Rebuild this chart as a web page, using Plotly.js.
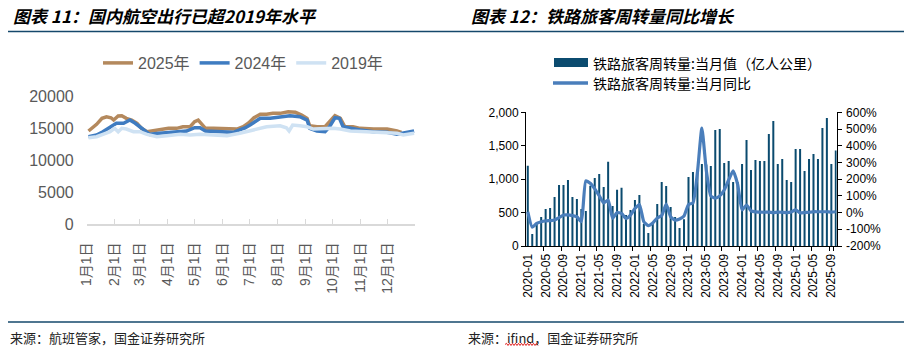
<!DOCTYPE html>
<html><head><meta charset="utf-8">
<script src="https://cdn.plot.ly/plotly-3.0.1.min.js"></script>
<style>html,body{margin:0;padding:0;background:#fff;}#chart{width:911px;height:356px;}</style>
</head><body><div id="chart"></div>
<script>
// ---------- Left chart: domestic flights (daily flights), day-of-year positions ----------
const airDays2025 = [2, 11, 17, 22, 27, 30, 35, 39, 44, 50, 56, 61, 67, 72, 80, 91, 100, 107, 115, 120, 124, 128, 132, 141, 159, 167, 174, 180, 186, 193, 200, 207, 215, 224, 232, 239, 245, 248, 256, 265, 270, 276, 282, 287, 296, 304, 319, 334, 345, 350];
const air2025 = [14620, 15670, 16610, 16860, 16700, 16340, 16970, 17020, 16610, 16340, 15830, 15040, 14510, 14620, 14930, 15040, 15040, 15290, 15290, 16080, 16340, 15670, 15040, 15040, 14930, 14930, 15290, 15870, 16700, 17240, 17240, 17390, 17390, 17640, 17550, 17130, 16610, 15450, 15290, 15290, 16080, 17020, 16610, 15290, 15290, 15040, 14930, 14930, 14620, 14410];
const airDays2024 = [2, 11, 18, 26, 33, 41, 48, 54, 59, 65, 70, 81, 96, 111, 120, 126, 132, 148, 163, 170, 176, 182, 193, 204, 215, 226, 237, 245, 248, 256, 265, 270, 276, 281, 285, 293, 304, 319, 334, 345, 356, 364];
const air2024 = [13730, 13990, 14510, 15290, 15830, 15830, 16340, 15830, 15290, 14510, 14100, 14260, 14420, 14620, 15140, 15140, 14620, 14510, 14420, 14800, 15100, 15600, 16610, 16610, 16860, 17020, 16860, 16340, 15040, 14620, 14510, 15290, 16700, 16610, 15290, 15040, 14780, 14510, 14420, 14100, 14360, 14620];
const airDays2019 = [2, 11, 18, 26, 31, 35, 39, 44, 52, 59, 67, 78, 89, 104, 115, 126, 141, 156, 170, 182, 190, 200, 215, 222, 225, 229, 237, 245, 252, 263, 274, 282, 293, 311, 330, 345, 352, 364];
const air2019 = [13570, 13730, 14100, 14510, 15040, 14510, 15040, 14930, 14510, 14510, 14100, 13730, 13890, 14100, 13990, 14100, 13990, 13890, 14260, 14700, 15000, 15290, 15450, 15140, 14620, 15560, 15450, 15290, 14930, 15040, 15040, 14930, 14620, 14510, 14420, 14260, 13990, 14260];
const airSeriesNames = ['2025年', '2024年', '2019年'];
const monthTickDays = [0, 31, 59, 90, 120, 151, 181, 212, 243, 273, 304, 334, 365];
const monthTickText = ['1月1日', '2月1日', '3月1日', '4月1日', '5月1日', '6月1日', '7月1日', '8月1日', '9月1日', '10月1日', '11月1日', '12月1日', ''];
const airYTicks = [0, 5000, 10000, 15000, 20000];

// ---------- Right chart: railway passenger-km ----------
const railMonths = [
 '2020-01','2020-02','2020-03','2020-04','2020-05','2020-06','2020-07','2020-08','2020-09','2020-10','2020-11','2020-12',
 '2021-01','2021-02','2021-03','2021-04','2021-05','2021-06','2021-07','2021-08','2021-09','2021-10','2021-11','2021-12',
 '2022-01','2022-02','2022-03','2022-04','2022-05','2022-06','2022-07','2022-08','2022-09','2022-10','2022-11','2022-12',
 '2023-01','2023-02','2023-03','2023-04','2023-05','2023-06','2023-07','2023-08','2023-09','2023-10','2023-11','2023-12',
 '2024-01','2024-02','2024-03','2024-04','2024-05','2024-06','2024-07','2024-08','2024-09','2024-10','2024-11','2024-12',
 '2025-01','2025-02','2025-03','2025-04','2025-05','2025-06','2025-07','2025-08','2025-09','2025-10'];
const railPkm = [
 1200, 180, 340, 434, 554, 569, 733, 913, 913, 988, 733, 703,
 554, 524, 900, 1017, 1077, 882, 1262, 600, 840, 870, 464, 539,
 688, 763, 330, 195, 355, 628, 958, 898, 584, 434, 269, 400,
 1033, 1107, 1140, 1227, 1220, 1197, 1736, 1751, 1242, 1272, 958, 958,
 1227, 1586, 1137, 1287, 1272, 1272, 1676, 1871, 1227, 1302, 988, 958,
 1452, 1452, 1122, 1302, 1377, 1302, 1766, 1915, 1227, 1430];
const railYoY = [
 5, -88, -65, -55, -50, -48, -45, -30, -15, -14, -18, -25,
 -54, 189, 175, 142, 101, 58, 75, -34, 0, -5, -35, -15,
 24, 48, -55, -78, -62, -32, -18, 50, -25, -45, -38, -20,
 48, 58, 240, 505, 250, 100, 86, 100, 135, 195, 250, 170,
 16, 45, 10, 4, 3, 2, 3, 0, 3, 2, 0, 3,
 16, -2, 0, 2, 5, 5, 5, 5, 3, 5];
const railTickMonths = ['2020-01','2020-05','2020-09','2021-01','2021-05','2021-09','2022-01','2022-05','2022-09','2023-01','2023-05','2023-09','2024-01','2024-05','2024-09','2025-01','2025-05','2025-09'];
const railLeftTicks = [0, 500, 1000, 1500, 2000];
const railRightTickVals = [-200, -100, 0, 100, 200, 300, 400, 500, 600];
const railRightTickText = ['-200%', '-100%', '0%', '100%', '200%', '300%', '400%', '500%', '600%'];
const railNames = ['铁路旅客周转量:当月值（亿人公里）', '铁路旅客周转量:当月同比'];

// ---------- helpers (pixel -> paper) ----------
const W = 911, H = 356;
const PX = x => x / W;
const PY = y => 1 - y / H;

const BROWN = '#B4895D', BLUE = '#3F7CC1', LIGHT = '#CFE2F3';
const BAR = '#0B4B6F', LINE = '#4A7EBB', RULE = '#15486B';
const CJK = 'Noto Sans CJK SC, sans-serif';
const LAT = 'Liberation Sans, Arial, Noto Sans CJK SC, sans-serif';

const traces = [
  {type:'scatter', mode:'lines', x: airDays2025, y: air2025, name: airSeriesNames[0], xaxis:'x', yaxis:'y',
   line:{color:BROWN, width:3.5}, legend:'legend'},
  {type:'scatter', mode:'lines', x: airDays2024, y: air2024, name: airSeriesNames[1], xaxis:'x', yaxis:'y',
   line:{color:BLUE, width:3.5}, legend:'legend'},
  {type:'scatter', mode:'lines', x: airDays2019, y: air2019, name: airSeriesNames[2], xaxis:'x', yaxis:'y',
   line:{color:LIGHT, width:3.5}, legend:'legend'},
  {type:'bar', x: railMonths, y: railPkm, name: railNames[0], xaxis:'x2', yaxis:'y2',
   marker:{color:BAR, line:{width:0}}, showlegend:false},
  {type:'scatter', mode:'lines', x: railMonths, y: railYoY, name: railNames[1], xaxis:'x2', yaxis:'y3',
   line:{color:LINE, width:3.2, shape:'spline', smoothing:0.5}, showlegend:false}
];

// red spell-check squiggle under "ifind"
let sq = 'M' + PX(505) + ',' + PY(344.5);
let up = true;
for (let x = 506.5; x <= 538; x += 1.5) { sq += ' L' + PX(x) + ',' + PY(up ? 343.3 : 345.5); up = !up; }

const layout = {
  width: W, height: H,
  margin: {l:0, r:0, t:0, b:0},
  paper_bgcolor: '#ffffff', plot_bgcolor: 'rgba(0,0,0,0)',
  font: {family: LAT, color: '#000'},
  bargap: 0.55,
  showlegend: true,
  legend: {orientation:'h', x: PX(98), xanchor:'left', y: PY(63), yanchor:'middle',
           font:{family: LAT, size:16, color:'#595959'}, bgcolor:'rgba(0,0,0,0)', borderwidth:0},
  xaxis: {domain:[PX(86.7), PX(415)], anchor:'y', range:[0, 365], tickmode:'array',
          tickvals: monthTickDays, ticktext: monthTickText, tickangle:-90,
          ticks:'inside', ticklen:5, tickcolor:'#D9D9D9', tickwidth:1,
          showline:true, linecolor:'#D9D9D9', linewidth:1.5, showgrid:false, zeroline:false,
          tickfont:{family: LAT, size:14, color:'#595959'}, ticklabelstandoff: 11, fixedrange:true},
  yaxis: {domain:[PY(224.3), PY(96.7)], anchor:'x', range:[0, 20000], tickmode:'array', tickvals: airYTicks,
          tickformat:'d', showgrid:false, zeroline:false, showline:false, ticks:'',
          tickfont:{family: LAT, size:16, color:'#595959'}, ticklabelstandoff: 12, fixedrange:true},
  xaxis2: {domain:[PX(526), PX(836.7)], anchor:'y2', type:'category', range:[-0.4, 69.2],
           tickmode:'array', tickvals: railTickMonths, ticktext: railTickMonths, tickangle:-90,
           ticks:'outside', tickson:'boundaries', ticklen:4, tickcolor:'#000', tickwidth:1,
           showline:true, linecolor:'#000', linewidth:1, showgrid:false, zeroline:false,
           tickfont:{family: LAT, size:12, color:'#000'}, ticklabelstandoff: 2, fixedrange:true},
  yaxis2: {domain:[PY(246), PY(112.3)], anchor:'x2', range:[0, 2000], tickmode:'array', tickvals: railLeftTicks,
           tickformat:',', showline:true, linecolor:'#000', linewidth:1, ticks:'outside', ticklen:4, tickcolor:'#000',
           showgrid:false, zeroline:false, tickfont:{family: LAT, size:12, color:'#000'}, fixedrange:true},
  yaxis3: {overlaying:'y2', side:'right', anchor:'x2', range:[-200, 600], tickmode:'array',
           tickvals: railRightTickVals, ticktext: railRightTickText,
           showline:true, linecolor:'#000', linewidth:1, ticks:'outside', ticklen:4, tickcolor:'#000',
           showgrid:false, zeroline:false, tickfont:{family: LAT, size:12, color:'#000'}, ticklabelstandoff: 2, fixedrange:true},
  shapes: [
    {type:'line', xref:'paper', yref:'paper', x0:PX(8), x1:PX(904), y0:PY(31.5), y1:PY(31.5), line:{color:RULE, width:1.5}},
    {type:'line', xref:'paper', yref:'paper', x0:PX(8), x1:PX(904), y0:PY(322), y1:PY(322), line:{color:RULE, width:1.5}},
    {type:'rect', xref:'paper', yref:'paper', x0:PX(554), x1:PX(588), y0:PY(67), y1:PY(58), fillcolor:BAR, line:{width:0}},
    {type:'line', xref:'paper', yref:'paper', x0:PX(553), x1:PX(588), y0:PY(83), y1:PY(83), line:{color:LINE, width:3.5}},
    {type:'path', xref:'paper', yref:'paper', path: sq, line:{color:'#E02020', width:1}}
  ],
  annotations: [
    {xref:'paper', yref:'paper', x:PX(11), y:PY(15), xanchor:'left', yanchor:'middle', showarrow:false,
     text:'<b><i>图表 11：国内航空出行已超2019年水平</i></b>', font:{family:CJK, size:17, color:'#000'}},
    {xref:'paper', yref:'paper', x:PX(469), y:PY(15), xanchor:'left', yanchor:'middle', showarrow:false,
     text:'<b><i>图表 12：铁路旅客周转量同比增长</i></b>', font:{family:CJK, size:17, color:'#000'}},
    {xref:'paper', yref:'paper', x:PX(591), y:PY(62.5), xanchor:'left', yanchor:'middle', showarrow:false,
     text: railNames[0], font:{family:CJK, size:14, color:'#000'}},
    {xref:'paper', yref:'paper', x:PX(591), y:PY(83), xanchor:'left', yanchor:'middle', showarrow:false,
     text: railNames[1], font:{family:CJK, size:14, color:'#000'}},
    {xref:'paper', yref:'paper', x:PX(8), y:PY(337), xanchor:'left', yanchor:'middle', showarrow:false,
     text:'来源：航班管家，国金证券研究所', font:{family:CJK, size:13, color:'#222'}},
    {xref:'paper', yref:'paper', x:PX(466), y:PY(337), xanchor:'left', yanchor:'middle', showarrow:false,
     text:'来源：ifind，国金证券研究所', font:{family:CJK, size:13, color:'#222'}}
  ]
};

Plotly.newPlot('chart', traces, layout, {staticPlot:true, displayModeBar:false});
</script></body></html>
